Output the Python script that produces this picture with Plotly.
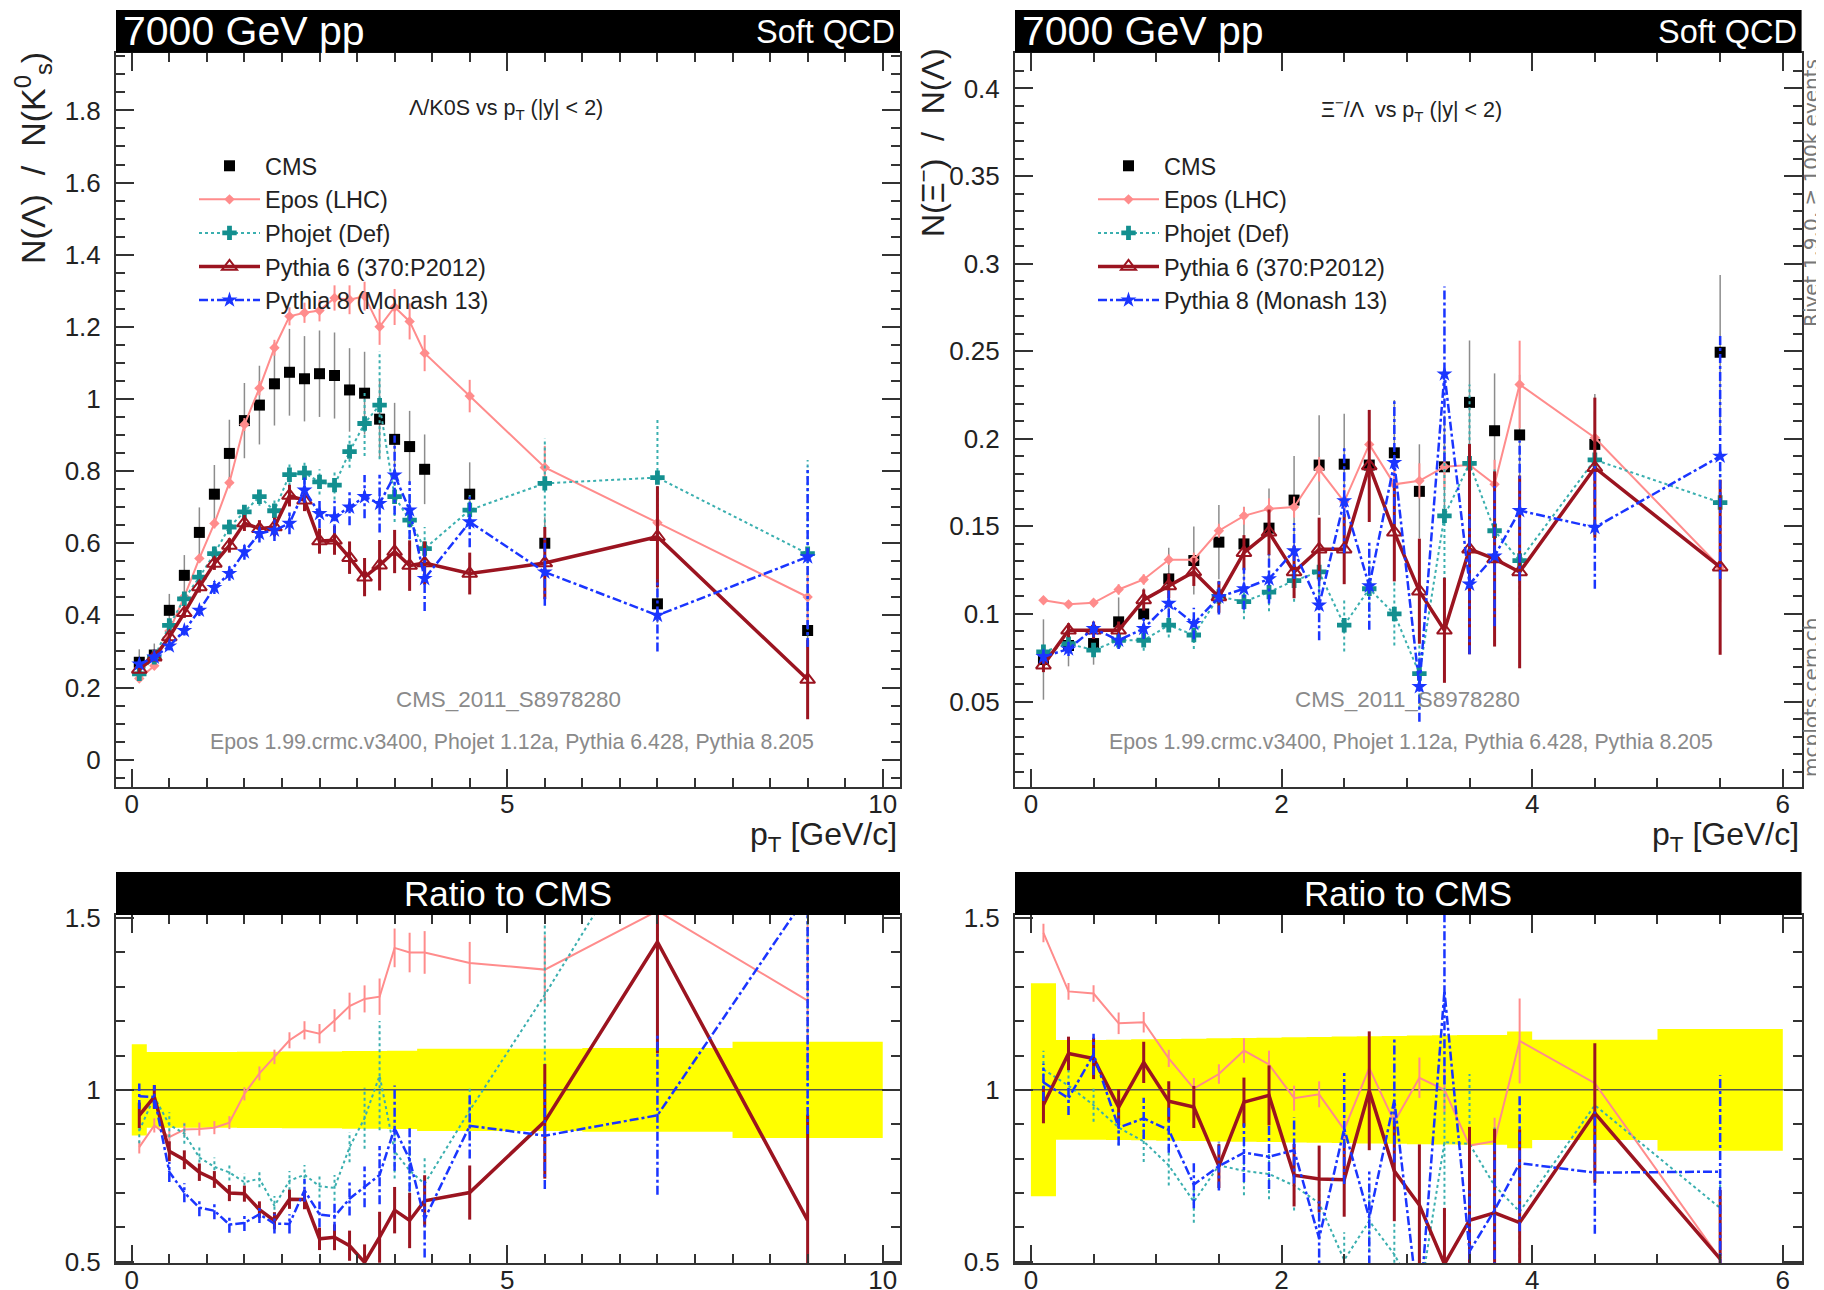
import plotly.graph_objects as go

# ---------------- data: Lambda / K0S vs pT ----------------
left_x = [0.1, 0.3, 0.5, 0.7, 0.9, 1.1, 1.3, 1.5, 1.7, 1.9, 2.1, 2.3, 2.5, 2.7, 2.9,
          3.1, 3.3, 3.5, 3.7, 3.9, 4.5, 5.5, 7.0, 9.0]
left_edges = [0, 0.2, 0.4, 0.6, 0.8, 1.0, 1.2, 1.4, 1.6, 1.8, 2.0, 2.2, 2.4, 2.6, 2.8,
              3.0, 3.2, 3.4, 3.6, 3.8, 4.0, 5, 6, 8, 10]
cms_l = [0.27, 0.29, 0.414, 0.511, 0.63, 0.736, 0.849, 0.94, 0.983, 1.042, 1.074, 1.056,
         1.07, 1.065, 1.025, 1.016, 0.944, 0.888, 0.868, 0.805, 0.736, 0.60, 0.432, 0.358]
cms_l_rel = [0.133, 0.11, 0.11, 0.11, 0.11, 0.11, 0.11, 0.111, 0.111, 0.111, 0.112, 0.112,
             0.112, 0.112, 0.113, 0.113, 0.113, 0.114, 0.114, 0.12, 0.12, 0.12, 0.122, 0.14]
epos_l = [0.225, 0.26, 0.357, 0.452, 0.558, 0.655, 0.768, 0.929, 1.03, 1.142, 1.229, 1.239,
          1.245, 1.28, 1.275, 1.285, 1.20, 1.255, 1.215, 1.127, 1.008, 0.81, 0.657, 0.451]
epos_l_err = [0.005, 0.006, 0.008, 0.01, 0.012, 0.014, 0.016, 0.018, 0.02, 0.022, 0.025, 0.028,
              0.03, 0.035, 0.04, 0.04, 0.05, 0.05, 0.05, 0.05, 0.045, 0.06, 0.04, 0.08]
phojet_l = [0.238, 0.284, 0.372, 0.446, 0.506, 0.571, 0.645, 0.687, 0.729, 0.69, 0.79, 0.795,
            0.77, 0.761, 0.854, 0.932, 0.983, 0.729, 0.664, 0.585, 0.692, 0.766, 0.782, 0.571]
phojet_l_err = [0.01, 0.01, 0.015, 0.015, 0.02, 0.02, 0.02, 0.025, 0.025, 0.03, 0.03, 0.03,
                0.035, 0.04, 0.045, 0.09, 0.15, 0.07, 0.07, 0.06, 0.05, 0.125, 0.165, 0.26]
py6_l = [0.25, 0.284, 0.34, 0.407, 0.479, 0.544, 0.594, 0.656, 0.64, 0.645, 0.732, 0.719,
         0.606, 0.608, 0.56, 0.506, 0.539, 0.577, 0.538, 0.545, 0.516, 0.545, 0.618, 0.222]
py6_l_err = [0.01, 0.01, 0.012, 0.014, 0.016, 0.018, 0.02, 0.022, 0.024, 0.026, 0.03, 0.03,
             0.035, 0.04, 0.045, 0.053, 0.07, 0.06, 0.07, 0.06, 0.058, 0.1, 0.14, 0.11]
py8_l = [0.265, 0.284, 0.315, 0.358, 0.414, 0.477, 0.516, 0.576, 0.627, 0.636, 0.655, 0.747,
         0.682, 0.673, 0.70, 0.729, 0.71, 0.789, 0.692, 0.502, 0.659, 0.52, 0.40, 0.562]
py8_l_err = [0.01, 0.01, 0.012, 0.014, 0.016, 0.018, 0.02, 0.022, 0.025, 0.03, 0.03, 0.035,
             0.04, 0.045, 0.05, 0.06, 0.08, 0.11, 0.08, 0.09, 0.07, 0.093, 0.1, 0.25]

# ---------------- data: Xi- / Lambda vs pT ----------------
right_x = [0.1, 0.3, 0.5, 0.7, 0.9, 1.1, 1.3, 1.5, 1.7, 1.9, 2.1, 2.3, 2.5, 2.7, 2.9,
           3.1, 3.3, 3.5, 3.7, 3.9, 4.5, 5.5]
right_edges = [0, 0.2, 0.4, 0.6, 0.8, 1.0, 1.2, 1.4, 1.6, 1.8, 2.0, 2.2, 2.4, 2.6, 2.8,
               3.0, 3.2, 3.4, 3.6, 3.8, 4.0, 5, 6]
cms_r = [0.074, 0.082, 0.0831, 0.0955, 0.100, 0.120, 0.1305, 0.141, 0.140, 0.149, 0.165,
         0.185, 0.1855, 0.185, 0.192, 0.170, 0.184, 0.2208, 0.2046, 0.2022, 0.1968, 0.2494]
cms_r_rel = [0.31, 0.145, 0.145, 0.146, 0.147, 0.148, 0.149, 0.15, 0.151, 0.152, 0.153,
             0.154, 0.155, 0.156, 0.157, 0.158, 0.159, 0.16, 0.16, 0.17, 0.146, 0.177]
epos_r = [0.1078, 0.1055, 0.1064, 0.114, 0.1197, 0.131, 0.131, 0.1475, 0.156, 0.16, 0.161,
          0.1826, 0.164, 0.1968, 0.174, 0.176, 0.184, 0.185, 0.174, 0.231, 0.2006, 0.1267]
epos_r_err = [0.002, 0.002, 0.002, 0.003, 0.003, 0.003, 0.004, 0.004, 0.005, 0.006, 0.006,
              0.007, 0.008, 0.009, 0.01, 0.01, 0.012, 0.012, 0.014, 0.025, 0.015, 0.02]
phojet_r = [0.0784, 0.083, 0.0794, 0.085, 0.085, 0.0936, 0.088, 0.11, 0.107, 0.1125, 0.119,
            0.124, 0.0936, 0.1144, 0.100, 0.066, 0.156, 0.186, 0.1475, 0.1305, 0.188, 0.1636]
phojet_r_err = [0.004, 0.004, 0.004, 0.005, 0.006, 0.007, 0.008, 0.009, 0.01, 0.011, 0.012,
                0.013, 0.015, 0.016, 0.018, 0.02, 0.04, 0.045, 0.035, 0.03, 0.015, 0.02]
py6_r = [0.0708, 0.0907, 0.0907, 0.0907, 0.108, 0.116, 0.124, 0.1097, 0.135, 0.1466, 0.124,
         0.137, 0.137, 0.1845, 0.1466, 0.113, 0.0907, 0.137, 0.1314, 0.124, 0.1835, 0.1267]
py6_r_err = [0.004, 0.004, 0.005, 0.005, 0.006, 0.007, 0.008, 0.009, 0.01, 0.013, 0.015,
             0.018, 0.02, 0.032, 0.028, 0.03, 0.03, 0.06, 0.05, 0.055, 0.04, 0.05]
py8_r = [0.0756, 0.080, 0.0917, 0.085, 0.0917, 0.106, 0.0945, 0.1097, 0.1144, 0.12, 0.136,
         0.105, 0.1646, 0.116, 0.1864, 0.0585, 0.237, 0.117, 0.133, 0.159, 0.1494, 0.190]
py8_r_err = [0.004, 0.004, 0.005, 0.005, 0.006, 0.008, 0.009, 0.01, 0.012, 0.014, 0.016,
             0.02, 0.03, 0.025, 0.035, 0.02, 0.05, 0.04, 0.04, 0.04, 0.035, 0.07]

# ---------------- styles ----------------
W, H = 1824, 1290
OFF = 8  # default page body margin
FONT = "Liberation Sans, Arial, sans-serif"
C_CMS = "#000000"
C_CMS_ERR = "#8c8c8c"
C_EPOS = "#ff8c8c"
C_PHO_LINE = "#3aafaf"
C_PHO_MK = "#138f8f"
C_PY6 = "#9b1420"
C_PY8 = "#1a35ff"

styles = {
    "Epos (LHC)": dict(color=C_EPOS, mk_color=C_EPOS, dash="solid", width=2,
                       symbol="diamond", msize=8, ewidth=2),
    "Phojet (Def)": dict(color=C_PHO_LINE, mk_color=C_PHO_MK, dash="dot", width=2,
                         symbol="cross", msize=12, ewidth=2),
    "Pythia 6 (370:P2012)": dict(color=C_PY6, mk_color=C_PY6, dash="solid", width=3.5,
                                 symbol="triangle-up-open", msize=13, ewidth=3),
    "Pythia 8 (Monash 13)": dict(color=C_PY8, mk_color=C_PY8, dash="dashdot", width=2.5,
                                 symbol="star", msize=12, ewidth=2.5),
}


def px_x(p):
    return (p - OFF) / W


def px_y(p):
    return 1 - (p - OFF) / H


def segments(x, y, e):
    xs, ys = [], []
    for xi, yi, ei in zip(x, y, e):
        xs += [xi, xi, None]
        ys += [yi - ei, yi + ei, None]
    return xs, ys


fig = go.Figure()

panels = [
    dict(x=left_x, edges=left_edges, cms=cms_l, rel=cms_l_rel,
         models=[("Epos (LHC)", epos_l, epos_l_err), ("Phojet (Def)", phojet_l, phojet_l_err),
                 ("Pythia 6 (370:P2012)", py6_l, py6_l_err), ("Pythia 8 (Monash 13)", py8_l, py8_l_err)],
         top=("x", "y"), bot=("x3", "y3"), legend="legend", xr=[-0.21, 10.23]),
    dict(x=right_x, edges=right_edges, cms=cms_r, rel=cms_r_rel,
         models=[("Epos (LHC)", epos_r, epos_r_err), ("Phojet (Def)", phojet_r, phojet_r_err),
                 ("Pythia 6 (370:P2012)", py6_r, py6_r_err), ("Pythia 8 (Monash 13)", py8_r, py8_r_err)],
         top=("x2", "y2"), bot=("x4", "y4"), legend="legend2", xr=[-0.127, 6.15]),
]

for p in panels:
    xa, ya = p["top"]
    xb, yb = p["bot"]
    cms_err = [c * r for c, r in zip(p["cms"], p["rel"])]

    # ---- top: CMS ----
    ex, ey = segments(p["x"], p["cms"], cms_err)
    fig.add_trace(go.Scatter(x=ex, y=ey, mode="lines", line=dict(color=C_CMS_ERR, width=1.5),
                             xaxis=xa, yaxis=ya, showlegend=False, hoverinfo="skip"))
    fig.add_trace(go.Scatter(x=p["x"], y=p["cms"], mode="markers", name="CMS",
                             marker=dict(symbol="square", size=11, color=C_CMS),
                             xaxis=xa, yaxis=ya, legend=p["legend"]))
    # ---- top: models ----
    for name, vals, errs in p["models"]:
        st = styles[name]
        ex, ey = segments(p["x"], vals, errs)
        fig.add_trace(go.Scatter(x=ex, y=ey, mode="lines",
                                 line=dict(color=st["color"], width=st["ewidth"], dash=st["dash"]),
                                 xaxis=xa, yaxis=ya, showlegend=False, hoverinfo="skip"))
        mk = dict(symbol=st["symbol"], size=st["msize"], color=st["mk_color"])
        if st["symbol"].endswith("open"):
            mk["line"] = dict(color=st["mk_color"], width=2)
        fig.add_trace(go.Scatter(x=p["x"], y=vals, mode="lines+markers", name=name,
                                 line=dict(color=st["color"], width=st["width"], dash=st["dash"]),
                                 marker=mk, xaxis=xa, yaxis=ya, legend=p["legend"]))

    # ---- bottom: ratio band ----
    lo = [1 - r for r in p["rel"]]
    hi = [1 + r for r in p["rel"]]
    fig.add_trace(go.Scatter(x=p["edges"], y=lo + [lo[-1]], mode="lines", line=dict(width=0, shape="hv"),
                             xaxis=xb, yaxis=yb, showlegend=False, hoverinfo="skip"))
    fig.add_trace(go.Scatter(x=p["edges"], y=hi + [hi[-1]], mode="lines", line=dict(width=0, shape="hv"),
                             fill="tonexty", fillcolor="#ffff00",
                             xaxis=xb, yaxis=yb, showlegend=False, hoverinfo="skip"))
    fig.add_trace(go.Scatter(x=p["xr"], y=[1, 1], mode="lines", line=dict(color="#555555", width=1.5),
                             xaxis=xb, yaxis=yb, showlegend=False, hoverinfo="skip"))
    for name, vals, errs in p["models"]:
        st = styles[name]
        rv = [v / c for v, c in zip(vals, p["cms"])]
        re = [e / c for e, c in zip(errs, p["cms"])]
        ex, ey = segments(p["x"], rv, re)
        fig.add_trace(go.Scatter(x=ex, y=ey, mode="lines",
                                 line=dict(color=st["color"], width=st["ewidth"], dash=st["dash"]),
                                 xaxis=xb, yaxis=yb, showlegend=False, hoverinfo="skip"))
        fig.add_trace(go.Scatter(x=p["x"], y=rv, mode="lines",
                                 line=dict(color=st["color"], width=st["width"], dash=st["dash"]),
                                 xaxis=xb, yaxis=yb, showlegend=False, hoverinfo="skip"))


def axis(**kw):
    minor_dtick = kw.pop("minor_dtick")
    base = dict(showline=True, linecolor="#333333", linewidth=2, mirror="ticks",
                ticks="inside", ticklen=18, tickwidth=2, tickcolor="#333333",
                showgrid=False, zeroline=False, automargin=False,
                tickfont=dict(family=FONT, size=26, color="#222222"),
                minor=dict(ticks="inside", ticklen=9, tickwidth=1.5, tickcolor="#333333",
                           showgrid=False, dtick=minor_dtick))
    base.update(kw)
    return base


LX = [px_x(116), px_x(900)]
RX = [px_x(1015), px_x(1801.6)]
TY = [px_y(786.7), px_y(52.7)]
BY = [px_y(1263), px_y(915)]

fig.update_layout(
    width=W, height=H, margin=dict(l=0, r=0, t=0, b=0, autoexpand=False),
    paper_bgcolor="white", plot_bgcolor="white",
    font=dict(family=FONT, color="#222222"),
    xaxis=axis(domain=LX, range=[-0.21, 10.23], anchor="y", tick0=0, dtick=5, minor_dtick=0.5,
               ticklabelstandoff=-7),
    yaxis=axis(domain=TY, range=[-0.075, 1.96], anchor="x", tick0=0, dtick=0.2, minor_dtick=0.05,
               ticklabelstandoff=8),
    xaxis2=axis(domain=RX, range=[-0.127, 6.15], anchor="y2", tick0=0, dtick=2, minor_dtick=0.5,
                ticklabelstandoff=-7),
    yaxis2=axis(domain=TY, range=[0.0014, 0.4204], anchor="x2", tick0=0, dtick=0.05, minor_dtick=0.01,
                ticklabelstandoff=8),
    xaxis3=axis(domain=LX, range=[-0.21, 10.23], anchor="y3", tick0=0, dtick=5, minor_dtick=0.5,
                ticklabelstandoff=-7),
    yaxis3=axis(domain=BY, range=[0.496, 1.509], anchor="x3", tick0=0, dtick=0.5, minor_dtick=0.1,
                ticklabelstandoff=8),
    xaxis4=axis(domain=RX, range=[-0.127, 6.15], anchor="y4", tick0=0, dtick=2, minor_dtick=0.5,
                ticklabelstandoff=-7),
    yaxis4=axis(domain=BY, range=[0.496, 1.509], anchor="x4", tick0=0, dtick=0.5, minor_dtick=0.1,
                ticklabelstandoff=8),
    legend=dict(x=px_x(194), y=px_y(144), xanchor="left", yanchor="top", bgcolor="rgba(0,0,0,0)",
                font=dict(family=FONT, size=23.5, color="#222222"), itemwidth=61, tracegroupgap=0,
                traceorder="normal"),
    legend2=dict(x=px_x(1093), y=px_y(144), xanchor="left", yanchor="top", bgcolor="rgba(0,0,0,0)",
                 font=dict(family=FONT, size=23.5, color="#222222"), itemwidth=61, tracegroupgap=0,
                 traceorder="normal"),
    showlegend=True,
)

# title bars
shapes = []
for x0, x1 in [(116, 900), (1015, 1801.6)]:
    shapes.append(dict(type="rect", xref="paper", yref="paper", x0=px_x(x0), x1=px_x(x1),
                       y0=px_y(52.7), y1=px_y(10), fillcolor="black", line=dict(width=0)))
    shapes.append(dict(type="rect", xref="paper", yref="paper", x0=px_x(x0), x1=px_x(x1),
                       y0=px_y(915), y1=px_y(872), fillcolor="black", line=dict(width=0)))
fig.update_layout(shapes=shapes)

ann = []


def text(x, y, s, size, color="#222222", xanchor="center", angle=0, family=FONT):
    ann.append(dict(x=px_x(x), y=px_y(y), xref="paper", yref="paper", text=s, showarrow=False,
                    xanchor=xanchor, yanchor="middle", textangle=angle,
                    font=dict(family=family, size=size, color=color)))


for off, xl, xr in [(0, 116, 900), (899, 1015, 1801.6)]:
    text(xl + 5, 31, "7000 GeV pp", 41, "white", "left")
    text(xr - 3, 32, "Soft QCD", 32.5, "white", "right")
    text((xl + xr) / 2, 893, "Ratio to CMS", 35, "white")
    text(508 + off, 699, "CMS_2011_S8978280", 22.4, "#8a8a8a")
    text(512 + off, 742, "Epos 1.99.crmc.v3400, Phojet 1.12a, Pythia 6.428, Pythia 8.205", 21.3, "#8a8a8a")
    text(xr - 1, 836, "p<sub>T</sub> [GeV/c]", 32, "#222222", "right")

text(506, 110, "Λ/K0S vs p<sub>T</sub> (|y| &lt; 2)", 21.5)
text(1411, 110, "Ξ<sup>−</sup>/Λ  vs p<sub>T</sub> (|y| &lt; 2)", 21.5)
text(33, 158, "N(Λ)  /  N(K<sup>0</sup><sub>s</sub>)", 34, angle=-90)
text(931, 142, "N(Ξ<sup>−</sup>)  /  N(Λ)", 32, angle=-90)
text(1811, 193, "Rivet 1.9.0, ≥ 100k events", 20, "#777777", angle=-90,
     family="DejaVu Sans, Liberation Sans, sans-serif")
text(1811, 698, "mcplots.cern.ch", 20, "#777777", angle=-90,
     family="DejaVu Sans, Liberation Sans, sans-serif")
fig.update_layout(annotations=ann)

fig.write_html("out.html")
